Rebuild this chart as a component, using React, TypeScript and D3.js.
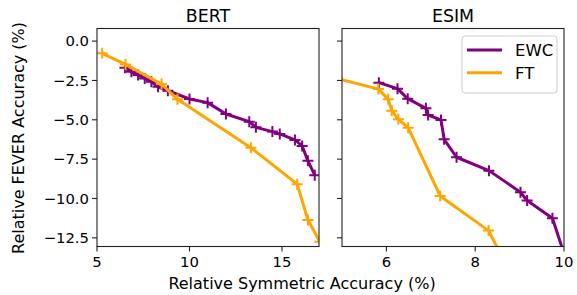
import { scaleLinear, line, format } from 'd3';

// BERT panel
const bertEwcX = [6.51, 6.86, 7.22, 7.58, 7.94, 8.3, 8.83, 10.0, 10.98, 11.97, 13.23, 13.59, 14.48, 14.88, 15.7, 16.09, 16.4, 16.77];
const bertEwcY = [-1.69, -1.95, -2.16, -2.37, -2.58, -2.9, -3.15, -3.68, -3.91, -4.63, -5.12, -5.48, -5.75, -5.9, -6.28, -6.66, -7.61, -8.52];
const bertFtX = [5.28, 6.54, 8.49, 9.35, 13.32, 15.82, 16.4, 17.05];
const bertFtY = [-0.78, -1.48, -2.73, -3.7, -6.77, -9.09, -11.36, -12.75];

// ESIM panel
const esimEwcX = [5.83, 6.25, 6.48, 6.89, 6.94, 7.23, 7.3, 7.58, 8.31, 9.02, 9.17, 9.74, 10.0];
const esimEwcY = [-2.64, -3.02, -3.66, -4.27, -4.7, -5.01, -6.24, -7.38, -8.23, -9.6, -10.13, -11.25, -13.5];
const esimFtX = [4.9, 5.82, 6.04, 6.12, 6.27, 6.49, 7.21, 8.3, 8.55];
const esimFtY = [-2.38, -3.05, -3.7, -4.42, -4.97, -5.5, -9.84, -12.04, -13.4];

const yTicks = [0, -2.5, -5, -7.5, -10, -12.5];
const bertXTicks = [5, 10, 15];
const esimXTicks = [6, 8, 10];
const seriesNames = ['EWC', 'FT'];
const seriesColors = ['#800080', '#ffa500'];

const W = 577, H = 295;
const top = 28.5, bottom = 246.5;
const font = 'DejaVu Sans, sans-serif';

const y = scaleLinear().domain([-13.05, 0.8]).range([bottom, top]);
const fmtY = format('.1f');

type Pt = [number, number];
const zip = (xs: number[], ys: number[]): Pt[] => xs.map((v, i) => [v, ys[i]]);

function Panel({ id, title, x0, x1, domain, xTicks, ewc, ft, showYLabels }:
  { id: string; title: string; x0: number; x1: number; domain: [number, number]; xTicks: number[]; ewc: Pt[]; ft: Pt[]; showYLabels: boolean }) {
  const x = scaleLinear().domain(domain).range([x0, x1]);
  const path = line<Pt>().x(d => x(d[0])).y(d => y(d[1]));
  const series = [ewc, ft];
  return (
    <g>
      <defs>
        <clipPath id={id}>
          <rect x={x0} y={top} width={x1 - x0} height={bottom - top} />
        </clipPath>
      </defs>
      <g clipPath={`url(#${id})`}>
        {series.map((data, si) => (
          <g key={si}>
            <path d={path(data) ?? ''} fill="none" stroke={seriesColors[si]} strokeWidth={3} strokeLinejoin="round" />
            {data.map((d, i) => (
              <path key={i} d={`M${x(d[0]) - 5.5},${y(d[1])}h11M${x(d[0])},${y(d[1]) - 5.5}v11`}
                stroke={seriesColors[si]} strokeWidth={2} />
            ))}
          </g>
        ))}
      </g>
      <rect x={x0} y={top} width={x1 - x0} height={bottom - top} fill="none" stroke="#222" strokeWidth={1.1} />
      {yTicks.map(t => (
        <g key={t}>
          <line x1={x0 - 5} x2={x0} y1={y(t)} y2={y(t)} stroke="#222" strokeWidth={1.1} />
          {showYLabels && (
            <text x={x0 - 8} y={y(t)} dy="0.36em" textAnchor="end" fontSize={14.8} fontFamily={font}>{fmtY(t)}</text>
          )}
        </g>
      ))}
      {xTicks.map(t => (
        <g key={t}>
          <line x1={x(t)} x2={x(t)} y1={bottom} y2={bottom + 5} stroke="#222" strokeWidth={1.1} />
          <text x={x(t)} y={267} textAnchor="middle" fontSize={14.8} fontFamily={font}>{t}</text>
        </g>
      ))}
      <text x={(x0 + x1) / 2} y={21.7} textAnchor="middle" fontSize={17.4} fontFamily={font}>{title}</text>
    </g>
  );
}

export default function App() {
  return (
    <svg width={W} height={H} style={{ position: 'absolute', left: 0, top: 0, background: '#fff' }}>
      <Panel id="clipBert" title="BERT" x0={97} x1={319} domain={[5, 17]} xTicks={bertXTicks}
        ewc={zip(bertEwcX, bertEwcY)} ft={zip(bertFtX, bertFtY)} showYLabels={true} />
      <Panel id="clipEsim" title="ESIM" x0={342} x1={564} domain={[5, 10]} xTicks={esimXTicks}
        ewc={zip(esimEwcX, esimEwcY)} ft={zip(esimFtX, esimFtY)} showYLabels={false} />

      {/* legend */}
      <rect x={462} y={36} width={95} height={57} rx={3} fill="#fff" fillOpacity={0.8} stroke="#ccc" />
      {seriesNames.map((n, i) => (
        <g key={n}>
          <line x1={467} x2={502} y1={50 + i * 22.7} y2={50 + i * 22.7} stroke={seriesColors[i]} strokeWidth={3} />
          <text x={515} y={56 + i * 22.7} fontSize={16.5} fontFamily={font}>{n}</text>
        </g>
      ))}

      <text x={302} y={289} textAnchor="middle" fontSize={16} fontFamily={font}>Relative Symmetric Accuracy (%)</text>
      <text transform="translate(24,138) rotate(-90)" textAnchor="middle" fontSize={16} fontFamily={font}>Relative FEVER Accuracy (%)</text>
    </svg>
  );
}
